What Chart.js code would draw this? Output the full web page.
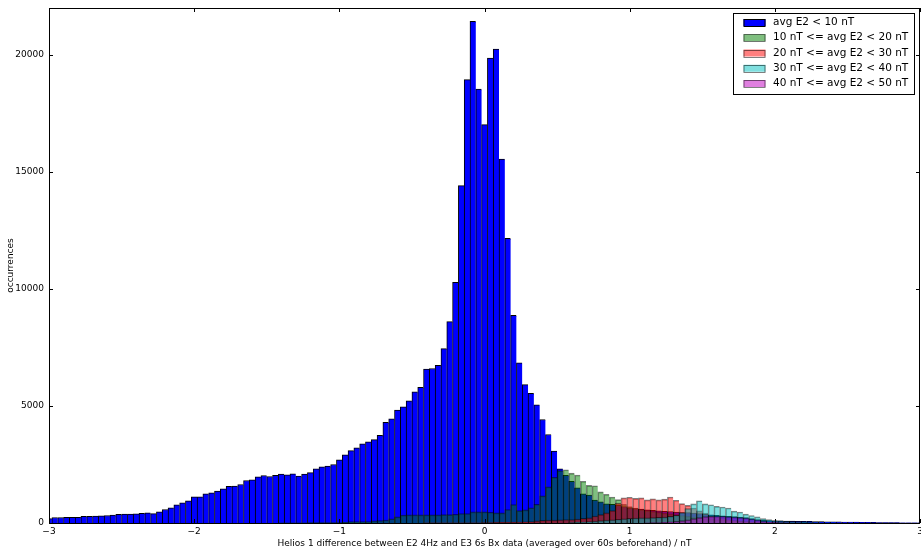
<!DOCTYPE html>
<html>
<head>
<meta charset="utf-8">
<script src="https://cdn.jsdelivr.net/npm/chart.js@4.4.1/dist/chart.umd.min.js"></script>
<style>
    html, body { margin: 0; padding: 0; background: #fff; }
    canvas { display: block; }
</style>
</head>
<body>
<canvas id="graficoHistograma" width="921" height="549"></canvas>
<script>
// bins of 0.04 nT, centres from -3 to 3 (151 bins, the outer two are half clipped)
const centrosBins = [];
for (let i = 0; i <= 150; i++) {
    centrosBins.push(Math.round((-3 + 0.04 * i) * 100) / 100);
}

const ticksX = [-3, -2, -1, 0, 1, 2, 3];
const ticksY = [0, 5000, 10000, 15000, 20000];

const rotulos = [
    "avg E2 < 10 nT",
    "10 nT <= avg E2 < 20 nT",
    "20 nT <= avg E2 < 30 nT",
    "30 nT <= avg E2 < 40 nT",
    "40 nT <= avg E2 < 50 nT",
];

// counts per bin (x = -3.00 ... 3.00)
const serieAbaixo10 = [
    190, 235, 235, 240, 240, 245, 290, 290, 300, 310,
    320, 335, 370, 380, 380, 390, 410, 435, 400, 475,
    575, 650, 775, 860, 950, 1120, 1120, 1245, 1290, 1360,
    1460, 1570, 1580, 1645, 1815, 1845, 1970, 2030, 1985, 2040,
    2085, 2060, 2100, 2000, 2085, 2155, 2310, 2400, 2430, 2500,
    2700, 2910, 3095, 3210, 3380, 3470, 3565, 3740, 4300, 4450,
    4820, 4960, 5220, 5600, 5800, 6580, 6600, 6740, 7450, 8600,
    10280, 14410, 18940, 21430, 18540, 17020, 19860, 20250, 15550, 12160,
    8870, 6840, 5910, 5540, 5050, 4420, 3780, 3070, 2310, 2040,
    1785, 1500, 1245, 1190, 975, 905, 820, 800, 760, 700,
    650, 620, 590, 560, 540, 520, 500, 490, 470, 450,
    440, 420, 400, 370, 350, 330, 310, 290, 270, 250,
    230, 190, 150, 110, 100, 95, 90, 85, 80, 75,
    70, 75, 65, 60, 55, 50, 45, 40, 40, 35,
    30, 30, 25, 20, 20, 15, 15, 10, 10, 10,
    5,
];

const serie10a20 = [
    0, 0, 0, 0, 0, 0, 0, 0, 0, 0,
    0, 0, 0, 0, 0, 0, 0, 0, 0, 0,
    0, 0, 0, 0, 0, 0, 0, 0, 0, 0,
    0, 0, 0, 0, 0, 0, 0, 0, 0, 0,
    5, 5, 10, 10, 10, 15, 15, 15, 15, 15,
    20, 30, 60, 64, 64, 64, 90, 107, 130, 180,
    265, 335, 350, 350, 350, 350, 350, 350, 355, 360,
    375, 405, 405, 475, 475, 475, 460, 435, 435, 575,
    790, 530, 560, 650, 800, 1160, 1545, 1955, 2240, 2275,
    2130, 2050, 1785, 1610, 1590, 1330, 1230, 1110, 1000, 800,
    700, 640, 580, 540, 500, 460, 420, 390, 360, 320,
    280, 250, 220, 190, 160, 140, 120, 100, 85, 70,
    60, 50, 40, 30, 25, 20, 15, 10, 10, 5,
    5, 5, 0, 0, 0, 0, 0, 0, 0, 0,
    0, 0, 0, 0, 0, 0, 0, 0, 0, 0,
    0,
];

const serie20a30 = [
    0, 0, 0, 0, 0, 0, 0, 0, 0, 0,
    0, 0, 0, 0, 0, 0, 0, 0, 0, 0,
    0, 0, 0, 0, 0, 0, 0, 0, 0, 0,
    0, 0, 0, 0, 0, 0, 0, 0, 0, 0,
    0, 0, 0, 0, 0, 0, 0, 0, 0, 0,
    0, 0, 0, 0, 0, 0, 0, 0, 0, 0,
    0, 0, 0, 0, 0, 5, 5, 5, 5, 5,
    10, 10, 10, 10, 10, 15, 20, 25, 30, 30,
    35, 40, 50, 60, 90, 110, 130, 120, 140, 150,
    150, 170, 200, 220, 300, 360, 435, 530, 850, 1075,
    1100, 1050, 1075, 990, 1030, 985, 1020, 1110, 970, 830,
    755, 640, 520, 420, 330, 260, 200, 150, 110, 80,
    60, 40, 30, 20, 15, 10, 5, 0, 0, 0,
    0, 0, 0, 0, 0, 0, 0, 0, 0, 0,
    0, 0, 0, 0, 0, 0, 0, 0, 0, 0,
    0,
];

const serie30a40 = [
    0, 0, 0, 0, 0, 0, 0, 0, 0, 0,
    0, 0, 0, 0, 0, 0, 0, 0, 0, 0,
    0, 0, 0, 0, 0, 0, 0, 0, 0, 0,
    0, 0, 0, 0, 0, 0, 0, 0, 0, 0,
    0, 0, 0, 0, 0, 0, 0, 0, 0, 0,
    0, 0, 0, 0, 0, 0, 0, 0, 0, 0,
    0, 0, 0, 0, 0, 0, 0, 0, 0, 0,
    0, 0, 0, 0, 0, 0, 0, 0, 0, 0,
    0, 0, 0, 0, 0, 0, 0, 0, 0, 0,
    20, 30, 40, 60, 80, 100, 120, 140, 160, 180,
    200, 210, 220, 220, 230, 240, 250, 280, 330, 450,
    620, 820, 950, 820, 780, 710, 685, 640, 510, 470,
    380, 320, 260, 190, 150, 105, 90, 70, 50, 40,
    30, 20, 15, 10, 10, 5, 0, 0, 0, 0,
    0, 0, 0, 0, 0, 0, 0, 0, 0, 0,
    0,
];

const serie40a50 = [
    0, 0, 0, 0, 0, 0, 0, 0, 0, 0,
    0, 0, 0, 0, 0, 0, 0, 0, 0, 0,
    0, 0, 0, 0, 0, 0, 0, 0, 0, 0,
    0, 0, 0, 0, 0, 0, 0, 0, 0, 0,
    0, 0, 0, 0, 0, 0, 0, 0, 0, 0,
    0, 0, 0, 0, 0, 0, 0, 0, 0, 0,
    0, 0, 0, 0, 0, 0, 0, 0, 0, 0,
    0, 0, 0, 0, 0, 0, 0, 0, 0, 0,
    0, 0, 0, 0, 0, 0, 0, 0, 0, 0,
    0, 0, 0, 0, 0, 0, 0, 0, 0, 0,
    0, 0, 0, 10, 15, 20, 30, 50, 70, 100,
    140, 190, 230, 270, 280, 290, 280, 260, 250, 230,
    210, 170, 120, 80, 50, 30, 20, 15, 10, 5,
    0, 0, 0, 0, 0, 0, 0, 0, 0, 0,
    0, 0, 0, 0, 0, 0, 0, 0, 0, 0,
    0,
];

const FONTE = "'DejaVu Sans', sans-serif";

function serie(label, valores, cor, borda, ordem) {
    return {
        label,
        data: centrosBins.map((x, i) => ({ x, y: valores[i] })),
        backgroundColor: cor,
        borderColor: borda,
        borderWidth: { top: 1, left: 1, right: 0, bottom: 0 },
        barPercentage: 1,
        categoryPercentage: 1,
        grouped: false,
        order: ordem,
    };
}

// frame and inward tick marks on all four sides, like the old matplotlib style
const molduraPlugin = {
    id: "moldura",
    afterDatasetsDraw(chart) {
        const { ctx, chartArea: a, scales } = chart;
        ctx.save();
        ctx.strokeStyle = "#000";
        ctx.lineWidth = 1;
        ctx.beginPath();
        ticksX.forEach((v) => {
            const px = Math.round(scales.x.getPixelForValue(v)) + 0.5;
            ctx.moveTo(px, a.bottom);
            ctx.lineTo(px, a.bottom - 4);
            ctx.moveTo(px, a.top);
            ctx.lineTo(px, a.top + 4);
        });
        ticksY.forEach((v) => {
            const py = Math.round(scales.y.getPixelForValue(v)) + 0.5;
            ctx.moveTo(a.left, py);
            ctx.lineTo(a.left + 4, py);
            ctx.moveTo(a.right, py);
            ctx.lineTo(a.right - 4, py);
        });
        ctx.stroke();
        ctx.strokeRect(a.left + 0.5, a.top + 0.5, a.right - a.left - 1, a.bottom - a.top);
        ctx.restore();
    },
};

const legendaPlugin = {
    id: "legenda",
    afterDraw(chart) {
        const { ctx, chartArea: a } = chart;
        const x0 = a.right - 186.5;
        const y0 = a.top + 5.5;
        ctx.save();
        ctx.fillStyle = "#fff";
        ctx.fillRect(x0, y0, 181, 81);
        ctx.strokeStyle = "#000";
        ctx.lineWidth = 1;
        ctx.strokeRect(x0, y0, 181, 81);
        ctx.font = "10.5px " + FONTE;
        ctx.textBaseline = "middle";
        ctx.textAlign = "left";
        chart.data.datasets.forEach((ds, i) => {
            const cy = y0 + 9 + i * 15.25;
            const px = x0 + 10;
            ctx.fillStyle = "#fff";
            ctx.fillRect(px, cy - 3.5, 22, 7);
            ctx.fillStyle = ds.backgroundColor;
            ctx.fillRect(px, cy - 3.5, 22, 7);
            ctx.strokeStyle = ds.borderColor;
            ctx.strokeRect(px + 0.5, Math.round(cy - 3.5) + 0.5, 21, 7);
            ctx.fillStyle = "#000";
            ctx.fillText(ds.label, x0 + 39.5, cy);
        });
        ctx.restore();
    },
};

function renderHistograma() {
    const ctx = document.getElementById("graficoHistograma");

    new Chart(ctx, {
        type: "bar",
        data: {
            datasets: [
                serie(rotulos[0], serieAbaixo10, "#0000ff", "#000000", 5),
                serie(rotulos[1], serie10a20, "rgba(0, 128, 0, 0.5)", "rgba(0, 0, 0, 0.5)", 4),
                serie(rotulos[2], serie20a30, "rgba(255, 0, 0, 0.5)", "rgba(0, 0, 0, 0.5)", 3),
                serie(rotulos[3], serie30a40, "rgba(0, 191, 191, 0.5)", "rgba(0, 0, 0, 0.5)", 2),
                serie(rotulos[4], serie40a50, "rgba(191, 0, 191, 0.5)", "rgba(0, 0, 0, 0.5)", 1),
            ],
        },
        options: {
            responsive: false,
            animation: false,
            devicePixelRatio: 1,
            layout: {
                padding: { top: 8, right: 1, left: 0, bottom: 0 },
            },
            plugins: {
                legend: { display: false },
                tooltip: { enabled: false },
            },
            scales: {
                x: {
                    type: "linear",
                    min: -3,
                    max: 3,
                    offset: false,
                    grid: { display: false, drawTicks: false },
                    border: { display: false },
                    afterBuildTicks: (s) => {
                        s.ticks = ticksX.map((v) => ({ value: v }));
                    },
                    afterFit: (s) => {
                        s.height = 26;
                        s.paddingLeft = 0;
                        s.paddingRight = 0;
                    },
                    ticks: {
                        padding: 3,
                        maxRotation: 0,
                        autoSkip: false,
                        color: "#000",
                        font: { family: FONTE, size: 9 },
                        callback: (v) => String(v).replace("-", "\u2212"),
                    },
                    title: {
                        display: true,
                        text: "Helios 1 difference between E2 4Hz and E3 6s Bx data (averaged over 60s beforehand) / nT",
                        color: "#000",
                        font: { family: FONTE, size: 9 },
                        padding: { top: 0, bottom: 0 },
                    },
                },
                y: {
                    min: 0,
                    max: 22000,
                    grid: { display: false, drawTicks: false },
                    border: { display: false },
                    afterBuildTicks: (s) => {
                        s.ticks = ticksY.map((v) => ({ value: v }));
                    },
                    afterFit: (s) => {
                        s.width = 49;
                        s.paddingTop = 0;
                        s.paddingBottom = 0;
                    },
                    ticks: {
                        padding: 5,
                        color: "#000",
                        font: { family: FONTE, size: 9 },
                        callback: (v) => String(v),
                    },
                    title: {
                        display: true,
                        text: "occurrences",
                        color: "#000",
                        font: { family: FONTE, size: 9 },
                        padding: { top: 5, bottom: 0 },
                    },
                },
            },
        },
        plugins: [molduraPlugin, legendaPlugin],
    });
}

renderHistograma();
</script>
</body>
</html>
